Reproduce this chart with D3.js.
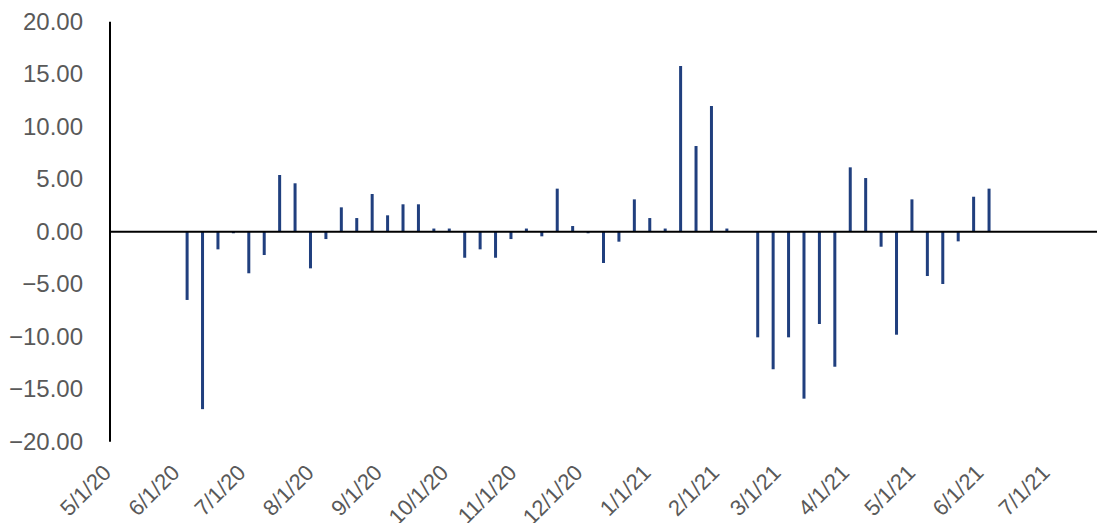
<!DOCTYPE html>
<html>
<head>
<meta charset="utf-8">
<script src="https://cdn.jsdelivr.net/npm/d3@7"></script>
<style>
  body { margin: 0; background: #fff; }
  svg { display: block; font-family: "Liberation Sans", Arial, sans-serif; }
</style>
</head>
<body>
<div id="chart"></div>
<script>
// weekly readings (Fridays)
var dates = [
  "2020-06-05","2020-06-12","2020-06-19","2020-06-26",
  "2020-07-03","2020-07-10","2020-07-17","2020-07-24","2020-07-31",
  "2020-08-07","2020-08-14","2020-08-21","2020-08-28",
  "2020-09-04","2020-09-11","2020-09-18","2020-09-25",
  "2020-10-02","2020-10-09","2020-10-16","2020-10-23","2020-10-30",
  "2020-11-06","2020-11-13","2020-11-20","2020-11-27",
  "2020-12-04","2020-12-11","2020-12-18","2020-12-25",
  "2021-01-01","2021-01-08","2021-01-15","2021-01-22","2021-01-29",
  "2021-02-05","2021-02-12","2021-02-19","2021-02-26",
  "2021-03-05","2021-03-12","2021-03-19","2021-03-26",
  "2021-04-02","2021-04-09","2021-04-16","2021-04-23","2021-04-30",
  "2021-05-07","2021-05-14","2021-05-21","2021-05-28",
  "2021-06-04"
];
var values = [
  -6.50, -16.90, -1.68, -0.15,
  -3.96, -2.22, 5.40, 4.61, -3.49,
  -0.70, 2.32, 1.30, 3.59,
  1.56, 2.61, 2.61, 0.30,
  0.30, -2.48, -1.68, -2.48, -0.70,
  0.30, -0.44, 4.10, 0.54,
  -0.15, -2.98, -0.95, 3.08,
  1.30, 0.30, 15.78, 8.16, 11.97,
  0.30, 0.00, -10.06, -13.10,
  -10.06, -15.90, -8.79, -12.86,
  6.13, 5.11, -1.43, -9.81, 3.08,
  -4.22, -4.98, -0.92, 3.33,
  4.10
];
var xTickDates = [
  "2020-05-01","2020-06-01","2020-07-01","2020-08-01","2020-09-01",
  "2020-10-01","2020-11-01","2020-12-01","2021-01-01","2021-02-01",
  "2021-03-01","2021-04-01","2021-05-01","2021-06-01","2021-07-01"
];
var yTicks = [-20, -15, -10, -5, 0, 5, 10, 15, 20];

var width = 1097, height = 523;
var parse = d3.timeParse("%Y-%m-%d");
var fmt = d3.timeFormat("%-m/%-d/%y");

var svg = d3.select("#chart").append("svg")
    .attr("width", width)
    .attr("height", height);

var xScale = d3.scaleTime()
    .domain([parse("2020-05-01"), parse("2021-07-23")])
    .range([110, 1097]);
var yScale = d3.scaleLinear()
    .domain([-20, 20])
    .range([441.7, 21.7]);

// y labels
svg.append("g")
   .attr("transform", "translate(110,0)")
   .call(d3.axisLeft(yScale).tickValues(yTicks).tickSize(0).tickPadding(27)
         .tickFormat(function(d) { return d3.format(".2f")(d); }))
   .call(function(g) { g.select(".domain").remove(); })
   .selectAll("text")
   .attr("fill", "#595959")
   .attr("font-size", "24px")
   .attr("font-family", "Liberation Sans, Arial, sans-serif");

// x labels (low position, rotated)
svg.append("g")
   .attr("transform", "translate(0,445)")
   .call(d3.axisBottom(xScale).tickValues(xTickDates.map(parse)).tickSize(0).tickFormat(fmt))
   .call(function(g) { g.select(".domain").remove(); })
   .selectAll("text")
   .attr("x", 0).attr("y", 0).attr("dy", 0)
   .attr("transform", "translate(2,29) rotate(-45)")
   .attr("text-anchor", "end")
   .attr("fill", "#595959")
   .attr("font-size", "22px")
   .attr("font-family", "Liberation Sans, Arial, sans-serif");

// bars
var data = dates.map(function(d, i) { return { date: parse(d), value: values[i] }; });
svg.selectAll(".bar")
   .data(data)
   .enter().append("rect")
   .attr("class", "bar")
   .attr("x", function(d) { return xScale(d.date) - 1.5; })
   .attr("y", function(d) { return yScale(Math.max(0, d.value)); })
   .attr("width", 3)
   .attr("height", function(d) { return Math.abs(yScale(d.value) - yScale(0)); })
   .attr("fill", "#203F7E");

// y axis line
svg.append("line")
   .attr("x1", 110).attr("x2", 110)
   .attr("y1", yScale(20)).attr("y2", yScale(-20))
   .attr("stroke", "#000").attr("stroke-width", 2);

// zero line
svg.append("line")
   .attr("x1", 110).attr("x2", xScale.range()[1])
   .attr("y1", yScale(0)).attr("y2", yScale(0))
   .attr("stroke", "#000").attr("stroke-width", 2);
</script>
</body>
</html>
